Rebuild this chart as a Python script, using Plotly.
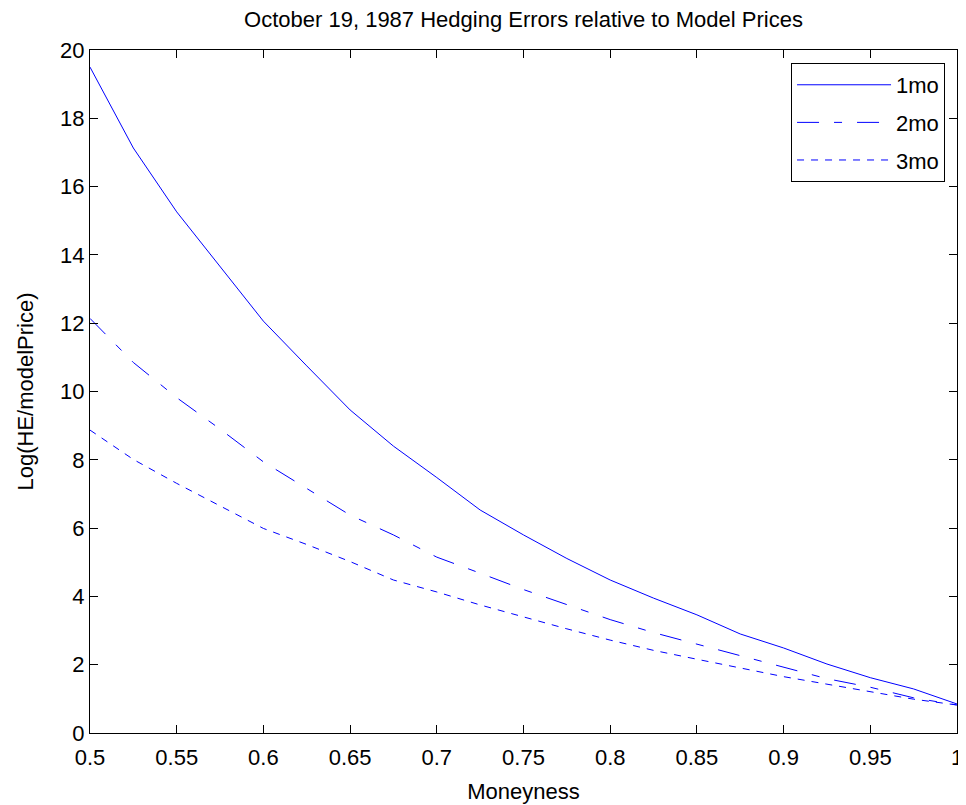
import plotly.graph_objects as go

moneyness = [0.5, 0.525, 0.55, 0.575, 0.6, 0.625, 0.65, 0.675, 0.7, 0.725, 0.75,
             0.775, 0.8, 0.825, 0.85, 0.875, 0.9, 0.925, 0.95, 0.975, 1.0]
he_1mo = [19.5, 17.13, 15.26, 13.65, 12.06, 10.75, 9.46, 8.40, 7.48, 6.53, 5.80,
          5.11, 4.48, 3.95, 3.46, 2.90, 2.49, 2.02, 1.62, 1.29, 0.85]
he_2mo = [12.14, 10.85, 9.82, 8.90, 7.94, 7.15, 6.38, 5.80, 5.15, 4.68, 4.20,
          3.76, 3.32, 2.94, 2.60, 2.27, 1.94, 1.59, 1.34, 1.03, 0.82]
he_3mo = [8.87, 8.01, 7.31, 6.65, 5.99, 5.52, 5.02, 4.48, 4.13, 3.75, 3.39,
          3.05, 2.72, 2.42, 2.16, 1.91, 1.65, 1.43, 1.20, 0.99, 0.82]
series_names = ["1mo", "2mo", "3mo"]
x_ticks = [0.5, 0.55, 0.6, 0.65, 0.7, 0.75, 0.8, 0.85, 0.9, 0.95, 1.0]
x_tick_labels = ["0.5", "0.55", "0.6", "0.65", "0.7", "0.75", "0.8", "0.85", "0.9", "0.95", "1"]
y_ticks = [0, 2, 4, 6, 8, 10, 12, 14, 16, 18, 20]

blue = "rgb(0,0,255)"
dashes = ["solid", "22px,15px,8px,15px", "7px,7px"]

fig = go.Figure()
for i, (name, vals) in enumerate(zip(series_names, [he_1mo, he_2mo, he_3mo])):
    fig.add_trace(go.Scatter(
        x=moneyness, y=vals, mode="lines", name=name,
        legendgroup=name,
        line=dict(color=blue, width=1, dash=dashes[i]),
    ))

font = "Liberation Sans, Arial, Helvetica, sans-serif"
W, H = 958, 797
fig.update_layout(
    width=W, height=H,
    margin=dict(l=82, r=9, t=42, b=72, autoexpand=False),
    paper_bgcolor="white", plot_bgcolor="white",
    font=dict(family=font, size=22, color="black"),
    title=dict(text="October 19, 1987 Hedging Errors relative to Model Prices",
               x=0.5, xanchor="center", xref="paper",
               y=1 - 11 / H, yref="container", yanchor="middle",
               font=dict(size=22, family=font, color="black")),
    showlegend=True,
    legend=dict(x=0.9862, y=0.981, xanchor="right", yanchor="top",
                bgcolor="white", bordercolor="black", borderwidth=1,
                font=dict(size=22, family=font, color="black"),
                traceorder="grouped", tracegroupgap=6, itemwidth=94),
)
fig.update_xaxes(
    range=[0.5, 1.0], tickvals=x_ticks, ticktext=x_tick_labels,
    ticks="inside", ticklen=8, tickcolor="black", tickwidth=1,
    showline=True, linecolor="black", linewidth=1, mirror="ticks",
    showgrid=False, zeroline=False, automargin=False,
    ticklabelstandoff=5,
    title=dict(text="Moneyness", standoff=14, font=dict(size=22)),
    tickfont=dict(size=22),
)
fig.update_yaxes(
    range=[0, 20], tickvals=y_ticks,
    ticks="inside", ticklen=8, tickcolor="black", tickwidth=1,
    showline=True, linecolor="black", linewidth=1, mirror="ticks",
    showgrid=False, zeroline=False, automargin=False,
    title=dict(text="Log(HE/modelPrice)", standoff=20, font=dict(size=22)),
    tickfont=dict(size=22),
)

fig.write_html("out.html")
